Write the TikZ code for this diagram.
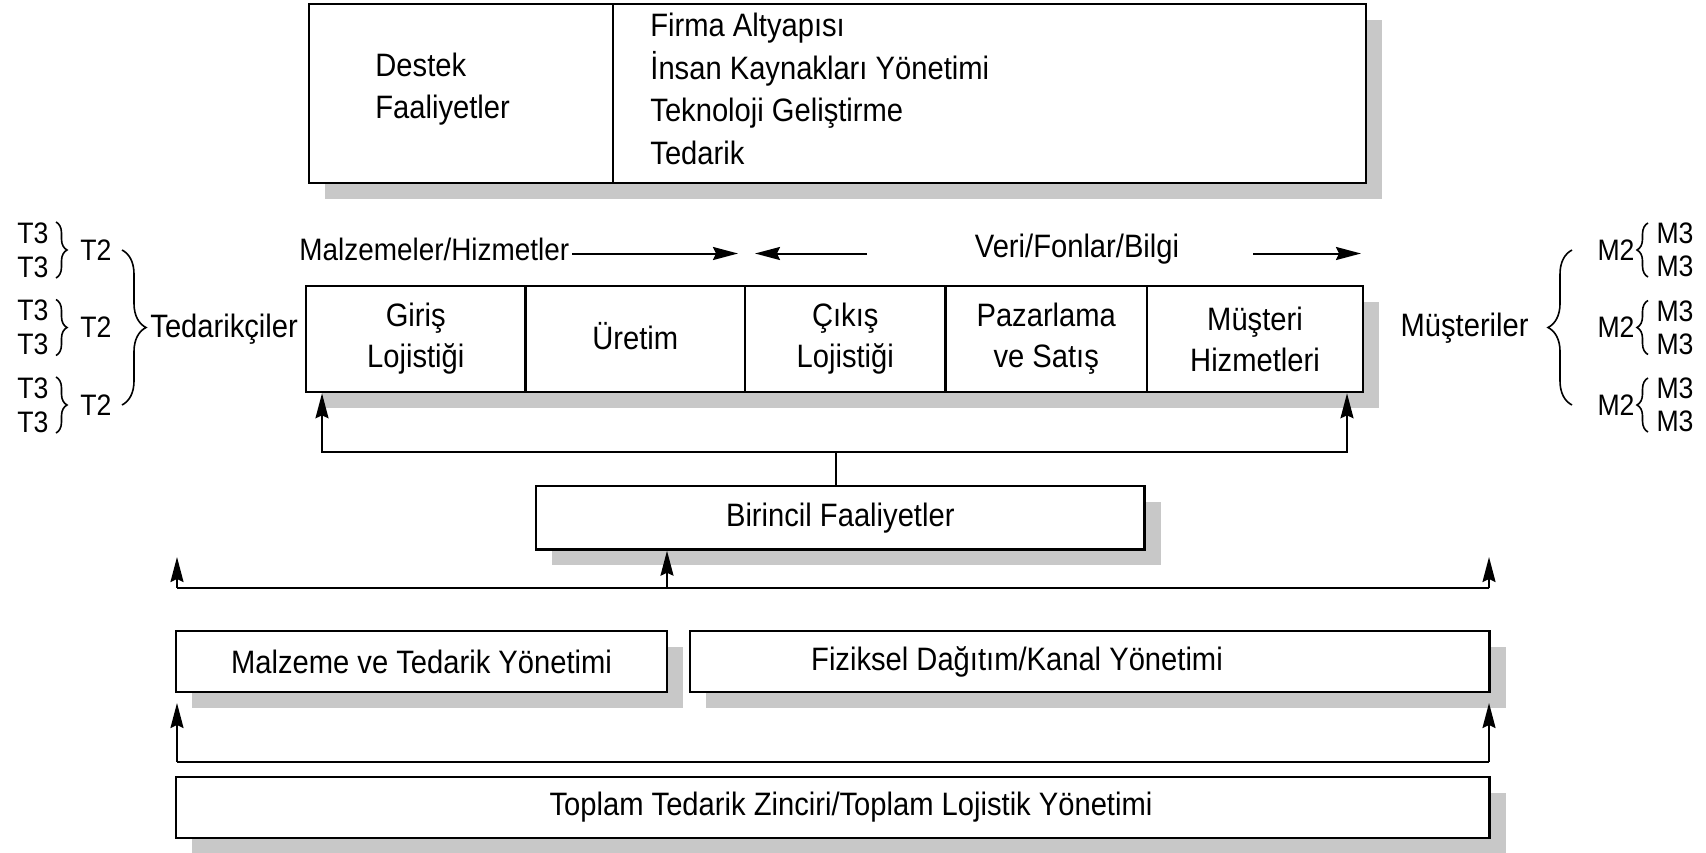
\documentclass[tikz,border=0pt]{standalone}
\usepackage{fontspec}
\setmainfont{Liberation Sans}[FakeStretch=0.9]
\usetikzlibrary{arrows.meta,shadows,decorations.pathreplacing}
\definecolor{shadowgray}{RGB}{200,200,200}

\begin{document}
\begin{tikzpicture}[x=0.5pt,y=-0.5pt,
  every node/.style={font=\fontsize{16.2}{20.5}\selectfont},
  txt/.style={inner sep=0pt},
  lbl/.style={font=\fontsize{14.8}{16}\selectfont, inner sep=0pt},
  listtext/.style={anchor=west, align=left, inner sep=0pt, font=\fontsize{16.2}{21.2}\selectfont},
  sz/.style 2 args={minimum width=#1, minimum height=#2},
  box/.style={draw, line width=1.3pt, fill=white, inner sep=0pt, align=center,
    drop shadow={shadow xshift=8pt, shadow yshift=-8pt, opacity=1, fill=shadowgray}},
  conn/.style={line width=1pt},
  arr/.style={line width=1pt, -{Stealth[length=12.5pt,width=6.5pt,inset=1.5pt]}},
  brace/.style={decorate, line width=0.8pt, decoration={brace, amplitude=#1}},
]
\useasboundingbox (0,0) rectangle (1706,852);

% support activities
\node[box, sz={152pt}{89.5pt}] (destek) at (461,93.5) {};
\node[box, sz={376.5pt}{89.5pt}] (support) at (989.5,93.5) {};
\node[listtext] (destekt) at (375,89) {Destek\\Faaliyetler};
\node[listtext] (supportt) at (650,89) {Firma Altyapısı\\İnsan Kaynakları Yönetimi\\Teknoloji Geliştirme\\Tedarik};

% flow labels above the primary chain
\node[txt, anchor=west, font=\fontsize{15.5}{18}\selectfont] (mh) at (299,249) {Malzemeler/Hizmetler};
\coordinate (a1s) at (572,253.5); \coordinate (a1e) at (738,253.5);
\coordinate (a2s) at (867,253.5); \coordinate (a2e) at (755,253.5);
\node[txt] (vfb) at (1077,249) {Veri/Fonlar/Bilgi};
\coordinate (a3s) at (1253,253.5); \coordinate (a3e) at (1361,253.5);
\draw[arr] (a1s) -- (a1e);
\draw[arr] (a2s) -- (a2e);
\draw[arr] (a3s) -- (a3e);

% primary chain
\node[box, sz={109.75pt}{53pt}] (c1) at (415.75,339) {Giriş\\Lojistiği};
\node[box, sz={109.75pt}{53pt}] (c2) at (635.25,339) {\raisebox{3pt}{Üretim}};
\node[box, sz={100.25pt}{53pt}] (c3) at (845.25,339) {Çıkış\\Lojistiği};
\node[box, sz={100.75pt}{53pt}] (c4) at (1046.25,339) {Pazarlama\\ve Satış};
\node[box, sz={108pt}{53pt}] (c5) at (1255,339) {Müşteri\\Hizmetleri};

% primary activities
\node[box, sz={304.3pt}{31.7pt}] (bir) at (840.3,517.7) {Birincil Faaliyetler};

\coordinate (bA) at (836,451.5);
\coordinate (bAL) at (322,451.5);
\coordinate (bAR) at (1347,451.5);
\draw[conn] (bir.north -| bA) -- (bA);
\draw[arr] (bA) -- (bAL) -- (c1.south -| bAL);
\draw[arr] (bA) -- (bAR) -- (c5.south -| bAR);

% management layers
\node[box, sz={245.5pt}{30.5pt}] (mtm) at (421.5,661.5) {Malzeme ve Tedarik Yönetimi};
\node[box, sz={399.75pt}{30.5pt}] (fdk) at (1089.75,661.5) {};
\node[txt] (fdkt) at (1017,661.5) {Fiziksel Dağıtım/Kanal Yönetimi};

\coordinate (bBL) at (177,587.5);
\coordinate (bBM) at (667,587.5);
\coordinate (bBR) at (1489,587.5);
\coordinate (bBLt) at (177,557);
\coordinate (bBRt) at (1489,557);
\draw[conn] (bBL) -- (bBR);
\draw[arr] (bBL) -- (bBLt);
\draw[arr] (bBR) -- (bBRt);
\draw[arr] (bBM) -- (bir.south -| bBM);

\node[box, sz={656.75pt}{30.5pt}] (tot) at (832.75,807.5) {};
\node[txt] (tott) at (851,807.5) {Toplam Tedarik Zinciri/Toplam Lojistik Yönetimi};

\coordinate (bCL) at (177,761.6);
\coordinate (bCR) at (1489,761.6);
\coordinate (bCLt) at (177,703);
\coordinate (bCRt) at (1489,703);
\draw[conn] (bCL) -- (bCR);
\draw[arr] (bCL) -- (bCLt);
\draw[arr] (bCR) -- (bCRt);

% supplier tiers
\foreach \y/\n in {250/a,327.5/b,405/c}{
  \node[lbl] (t2\n) at (96,\y) {T2};
  \node[lbl] (t3\n1) at (33,\y-17) {T3};
  \node[lbl] (t3\n2) at (33,\y+17) {T3};
  \draw[brace=5.5pt] (56,\y-28) -- (56,\y+28);
}
\draw[brace=12pt] (122,250) -- (122,405);
\node[txt, anchor=west] (ted) at (150,329) {Tedarikçiler};

% customer tiers
\foreach \y/\n in {250/a,327.5/b,405/c}{
  \node[lbl] (m2\n) at (1616,\y) {M2};
  \node[lbl] (m3\n1) at (1675,\y-16.5) {M3};
  \node[lbl] (m3\n2) at (1675,\y+16.5) {M3};
  \draw[brace=5.5pt] (1648,\y+27) -- (1648,\y-27);
}
\draw[brace=12pt] (1572,405) -- (1572,250);
\node[txt, anchor=east] (mus) at (1529,328) {Müşteriler};

\end{tikzpicture}
\end{document}
